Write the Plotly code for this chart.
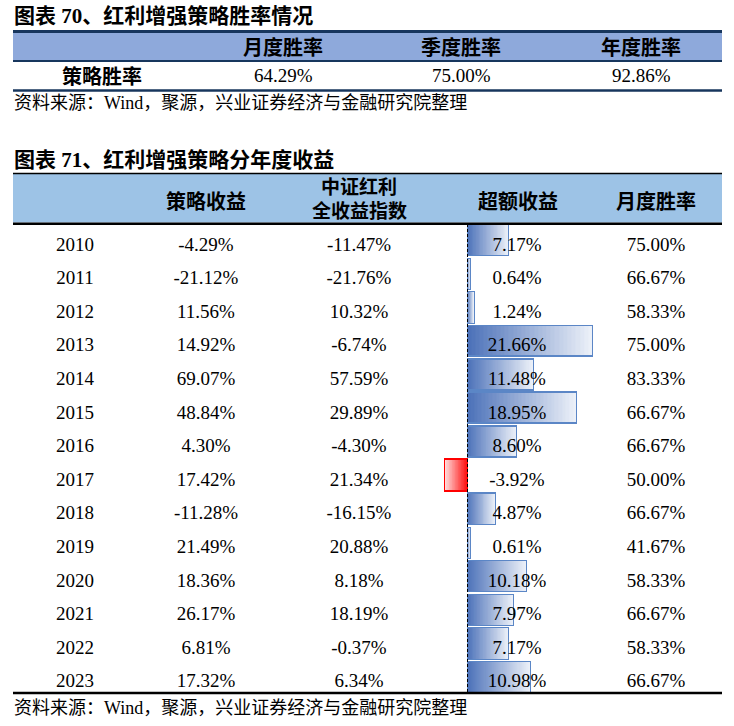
import plotly.graph_objects as go

# ---------------- data ----------------
years = ["2010", "2011", "2012", "2013", "2014", "2015", "2016",
         "2017", "2018", "2019", "2020", "2021", "2022", "2023"]
strategy_ret = [-4.29, -21.12, 11.56, 14.92, 69.07, 48.84, 4.30,
                17.42, -11.28, 21.49, 18.36, 26.17, 6.81, 17.32]
index_ret = [-11.47, -21.76, 10.32, -6.74, 57.59, 29.89, -4.30,
             21.34, -16.15, 20.88, 8.18, 18.19, -0.37, 6.34]
excess_ret = [7.17, 0.64, 1.24, 21.66, 11.48, 18.95, 8.60,
              -3.92, 4.87, 0.61, 10.18, 7.97, 7.17, 10.98]
monthly_win = [75.00, 66.67, 58.33, 75.00, 83.33, 66.67, 66.67,
               50.00, 66.67, 41.67, 58.33, 66.67, 58.33, 66.67]

win_labels = ["月度胜率", "季度胜率", "年度胜率"]
win_values = [64.29, 75.00, 92.86]
win_row_label = "策略胜率"

title1 = "图表 70、红利增强策略胜率情况"
title2 = "图表 71、红利增强策略分年度收益"
source_text = "资料来源：Wind，聚源，兴业证券经济与金融研究院整理"
headers2 = ["策略收益", "中证红利", "全收益指数", "超额收益", "月度胜率"]

# ---------------- layout constants (screen pixels) ----------------
W, H = 734, 726
OFF = 0
LEFT, RIGHT = 13, 722
ZERO_PX = 467.5        # pixel position of 0% for excess bars
PX_PER_PCT = 5.8       # pixels per 1% excess
BAR_TOP0 = 240.5       # centre of first bar row
PITCH = 33.6
TEXT_TOP0 = 245.8      # centre of first text row
COL_YEAR, COL_STRAT, COL_INDEX, COL_EXCESS, COL_MONTH = 75, 206, 359, 517, 656
T1_COLS = [283, 461, 641]

SERIF = "Liberation Serif, Noto Sans CJK SC"
CJK = "Noto Sans CJK SC"
NUM_SIZE = 19
TITLE_SIZE = 21
HEAD_SIZE = 20
SRC_SIZE = 18

def px(x):
    return (x - OFF) / W

def py(y):
    return 1 - (y - OFF) / H

def fmt(v):
    return f"{v:.2f}%"

fig = go.Figure()

# ---- gradient excess bars (stacked segments) ----
N = 30
blue_dark = (74, 112, 184)
blue_light = (238, 242, 249)
red_dark = (255, 10, 10)
red_light = (255, 222, 222)

def mix(c1, c2, t):
    return "rgb(%d,%d,%d)" % tuple(round(a + (b - a) * t) for a, b in zip(c1, c2))

n = len(years)
for k in range(N):
    t = (k + 0.5) / N
    cols = [mix(blue_dark, blue_light, t) if v >= 0 else mix(red_dark, red_light, t)
            for v in excess_ret]
    fig.add_trace(go.Bar(
        y=years, x=[v / N for v in excess_ret], orientation="h",
        marker=dict(color=cols, line=dict(color=cols, width=0.6)),
        width=0.93, xaxis="x", yaxis="y", showlegend=False, hoverinfo="skip",
    ))

# outline bars
fig.add_trace(go.Bar(
    y=years, x=excess_ret, orientation="h",
    marker=dict(color="rgba(0,0,0,0)",
                line=dict(color=["#5B86C6" if v >= 0 else "#FF0000" for v in excess_ret],
                          width=1.2)),
    width=0.93, xaxis="x2", yaxis="y", showlegend=False, hoverinfo="skip",
))

# ---- text cells of table 2 ----
for xpos, vals in [(COL_YEAR, years),
                   (COL_STRAT, [fmt(v) for v in strategy_ret]),
                   (COL_INDEX, [fmt(v) for v in index_ret]),
                   (COL_EXCESS, [fmt(v) for v in excess_ret]),
                   (COL_MONTH, [fmt(v) for v in monthly_win])]:
    fig.add_trace(go.Scatter(
        x=[xpos] * n, y=years, mode="text", text=vals,
        textposition="middle center",
        textfont=dict(family=SERIF, size=NUM_SIZE, color="black"),
        xaxis="x3", yaxis="y3", showlegend=False, hoverinfo="skip",
    ))

x_lo = -(ZERO_PX - OFF) / PX_PER_PCT
x_hi = (W - (ZERO_PX - OFF)) / PX_PER_PCT
bar_dom = [py(BAR_TOP0 - PITCH / 2 + n * PITCH), py(BAR_TOP0 - PITCH / 2)]
txt_dom = [py(TEXT_TOP0 - PITCH / 2 + n * PITCH), py(TEXT_TOP0 - PITCH / 2)]

hidden = dict(showgrid=False, zeroline=False, showticklabels=False,
              showline=False, ticks="")

shapes = []
def hline(y, w, color):
    shapes.append(dict(type="line", xref="paper", yref="paper",
                       x0=px(LEFT), x1=px(RIGHT), y0=py(y), y1=py(y),
                       line=dict(color=color, width=w)))

def band(y0, y1, color):
    shapes.append(dict(type="rect", xref="paper", yref="paper", layer="below",
                       x0=px(LEFT), x1=px(RIGHT), y0=py(y1), y1=py(y0),
                       fillcolor=color, line=dict(width=0)))

NAVY = "#17365D"
band(32, 60.5, "#8EA9DB")
hline(31.5, 3, NAVY)
hline(61, 2, NAVY)
hline(90.5, 2.5, NAVY)

band(174, 222.5, "#9DC3E6")
hline(173.5, 1.5, "black")
hline(223.8, 2.5, "black")
hline(693, 2.5, "black")

shapes.append(dict(type="line", xref="x", yref="paper", x0=0, x1=0,
                   y0=py(692), y1=py(225),
                   line=dict(color="black", width=1, dash="3px,2px")))

annotations = []
def text(x, y, s, size, family, bold=False, anchor="center"):
    annotations.append(dict(x=px(x), y=py(y), xref="paper", yref="paper",
                            text=s, showarrow=False, xanchor=anchor, yanchor="middle",
                            borderpad=0,
                            font=dict(family=family, size=size, color="black",
                                      weight="bold" if bold else "normal")))

text(13, 15.5, title1, TITLE_SIZE, SERIF, bold=True, anchor="left")
for xc, lab, val in zip(T1_COLS, win_labels, win_values):
    text(xc, 46.5, lab, HEAD_SIZE, CJK, bold=True)
    text(xc, 76, fmt(val), NUM_SIZE, SERIF)
text(102, 76, win_row_label, HEAD_SIZE, CJK, bold=True)
text(13, 103, source_text, SRC_SIZE, SERIF, anchor="left")

text(13, 160, title2, TITLE_SIZE, SERIF, bold=True, anchor="left")
text(COL_STRAT, 200, headers2[0], HEAD_SIZE, CJK, bold=True)
text(COL_INDEX, 187, headers2[1], 19, SERIF, bold=True)
text(COL_INDEX, 211.5, headers2[2], 19, SERIF, bold=True)
text(COL_EXCESS + 1, 200, headers2[3], HEAD_SIZE, CJK, bold=True)
text(COL_MONTH, 200, headers2[4], HEAD_SIZE, CJK, bold=True)
text(13, 708, source_text, SRC_SIZE, SERIF, anchor="left")

fig.update_layout(
    width=W, height=H, margin=dict(l=0, r=0, t=0, b=0),
    paper_bgcolor="white", plot_bgcolor="rgba(0,0,0,0)",
    barmode="stack", bargap=0, showlegend=False,
    xaxis=dict(domain=[0, 1], range=[x_lo, x_hi], anchor="y", **hidden),
    xaxis2=dict(range=[x_lo, x_hi], overlaying="x", anchor="y", **hidden),
    yaxis=dict(domain=bar_dom, type="category", categoryorder="array",
               categoryarray=years, range=[n - 0.5, -0.5], anchor="x", **hidden),
    xaxis3=dict(domain=[0, 1], range=[OFF, OFF + W], anchor="y3", **hidden),
    yaxis3=dict(domain=txt_dom, type="category", categoryorder="array",
                categoryarray=years, range=[n - 0.5, -0.5], anchor="x3", **hidden),
    shapes=shapes, annotations=annotations,
)

fig.write_html("out.html",
               config={"displayModeBar": False},
               post_script="document.body.style.margin='0';"
                           "document.body.style.overflow='hidden';")
